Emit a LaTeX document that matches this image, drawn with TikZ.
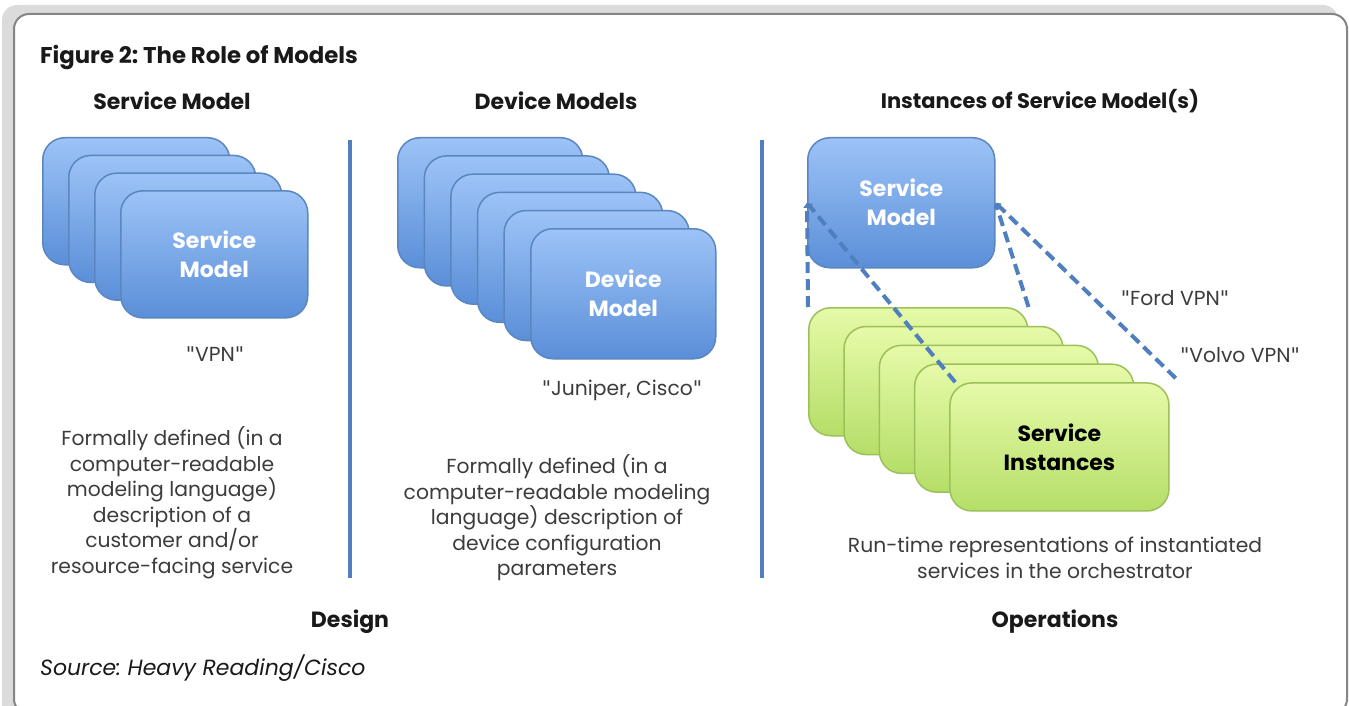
\documentclass[tikz,border=0pt]{standalone}
\usepackage{fontspec}
\setmainfont{Poppins}
\usetikzlibrary{arrows.meta}
\definecolor{bluetop}{HTML}{9DC3F7}
\definecolor{bluebot}{HTML}{5A8FD8}
\definecolor{blueedge}{HTML}{5B86C0}
\definecolor{greentop}{HTML}{E6FAA8}
\definecolor{greenbot}{HTML}{B5DE68}
\definecolor{greenedge}{HTML}{9CC05A}
\definecolor{dashblue}{HTML}{4F7FBE}
\definecolor{txtgray}{HTML}{3C3C3C}
\newcommand{\qq}{{\fontspec{DejaVu Sans}\char"0022}}
\tikzset{
  bluebox/.style={draw=blueedge, line width=1.5pt, rounded corners=22pt, top color=bluetop, bottom color=bluebot, anchor=north west, inner sep=0pt},
  greenbox/.style={draw=greenedge, line width=1.5pt, rounded corners=22pt, top color=greentop, bottom color=greenbot, anchor=north west, inner sep=0pt},
  boxtxt/.style={font=\fontsize{22}{29}\selectfont\bfseries, align=center},
  heading/.style={font=\fontsize{22}{26}\selectfont\bfseries, text=black!90},
  body/.style={font=\fontsize{20.3}{25.5}\selectfont, text=txtgray, align=center},
  dashline/.style={draw=dashblue, line width=4pt, dash pattern=on 11pt off 6pt},
  tipend/.style={-{Triangle[width=7pt,length=5pt]}},
  divider/.style={draw=dashblue, line width=3.5pt},
}
\begin{document}
\frenchspacing
\begin{tikzpicture}[x=1pt,y=-1pt]
\useasboundingbox (0,0) rectangle (1349,706);
\begin{scope}
\clip (0,0) rectangle (1349,706);
\fill[black!14, rounded corners=15pt] (2,5) rectangle (1338,720);
\draw[fill=white, draw=black!48, line width=2pt, rounded corners=15pt] (14,14) rectangle (1347,714);
\end{scope}

% title
\node[heading, font=\fontsize{22.8}{26}\selectfont\bfseries, anchor=west, inner sep=0pt] (title) at (40,58) {Figure 2: The Role of Models};
\node[heading] (h1) at (172,101) {Service Model};
\node[heading] (h2) at (556,101) {Device Models};
\node[heading, font=\fontsize{21}{26}\selectfont\bfseries] (h3) at (1040,101) {Instances of Service Model(s)};

% dividers
\coordinate (d1a) at (350,140);
\coordinate (d1b) at (350,578);
\coordinate (d2a) at (762,140);
\coordinate (d2b) at (762,578);
\draw[divider] (d1a) -- (d1b);
\draw[divider] (d2a) -- (d2b);

% service model stack
\foreach \i in {0,1,2,3} {
  \node[bluebox, minimum width=187pt, minimum height=127pt] (s\i) at (42+26*\i,137+17.7*\i) {};
}
\node[boxtxt, text=white] (stxt) at (s3.center) {Service\\Model};
\node[body] (vpn) at (215,354) {\qq VPN\qq};
\node[body] (sdesc) at (172,503) {Formally defined (in a\\computer-readable\\modeling language)\\description of a\\customer and/or\\resource-facing service};

% device model stack
\foreach \i in {0,1,2,3,4,5} {
  \node[bluebox, minimum width=185pt, minimum height=130pt] (dv\i) at (397+26.6*\i,137+18.2*\i) {};
}
\node[boxtxt, text=white] (dtxt) at (dv5.center) {Device\\Model};
\node[body] (jc) at (622,390) {\qq Juniper, Cisco\qq};
\node[body] (ddesc) at (557,518) {Formally defined (in a\\computer-readable modeling\\language) description of\\device configuration\\parameters};

% instances
\node[bluebox, minimum width=187pt, minimum height=130pt] (sm) at (807,137) {};
\node[boxtxt, text=white] (smtxt) at (sm.center) {Service\\Model};
\foreach \i in {0,1,2,3,4} {
  \node[greenbox, minimum width=219pt, minimum height=128pt] (g\i) at (808+35.3*\i,307+18.8*\i) {};
}
\node[boxtxt, text=black] (gtxt) at (g4.center) {Service\\Instances};

\draw[dashline, tipend] (g0.north west) -- (sm.west);
\draw[dashline, tipend] ([xshift=6pt]g4.north west) -- (sm.west);
\draw[dashline, tipend] (g0.north east) -- (sm.east);
\draw[dashline, tipend] ([xshift=6pt,yshift=4pt]g4.north east) -- (sm.east);

\node[body] (ford) at (1175,298) {\qq Ford VPN\qq};
\node[body] (volvo) at (1240,355) {\qq Volvo VPN\qq};
\node[body] (rdesc) at (1055,558) {Run-time representations of instantiated\\services in the orchestrator};

\node[heading] (design) at (350,622) {Design};
\node[heading] (ops) at (1055,622) {Operations};
\node[font=\fontsize{22}{26}\selectfont\itshape, text=black!90, anchor=west, inner sep=0pt] (src) at (40,668) {Source: Heavy Reading/Cisco};
\end{tikzpicture}
\end{document}
